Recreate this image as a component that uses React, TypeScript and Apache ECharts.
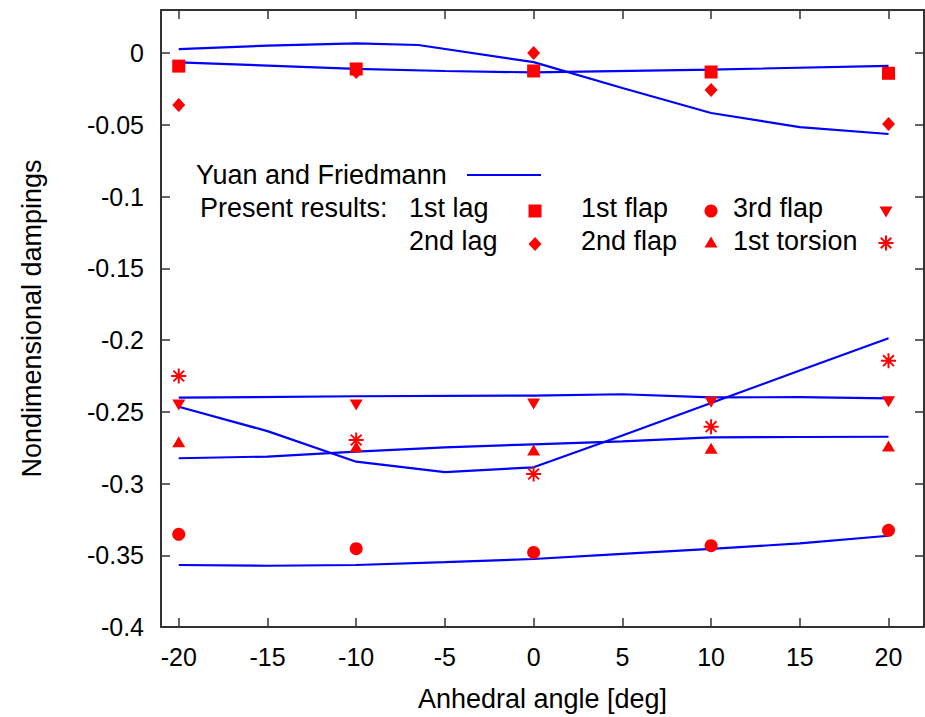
import React, { useEffect, useRef } from "react";
import * as echarts from "echarts";

// ---- data ----
const xTicks = [-20, -15, -10, -5, 0, 5, 10, 15, 20];
const yTicks = [-0.4, -0.35, -0.3, -0.25, -0.2, -0.15, -0.1, -0.05, 0];

// Yuan and Friedmann reference curves (x, y)
const yf1X = [-20, -15, -10, -6.5, 0, 5, 10, 15, 20];
const yf1Y = [0.0027, 0.0052, 0.0068, 0.0056, -0.0063, -0.0244, -0.0418, -0.0516, -0.0564];
const yf2X = [-20, -10, -5, 0, 10, 20];
const yf2Y = [-0.0065, -0.011, -0.0125, -0.0135, -0.0115, -0.009];
const yf3X = [-20, -10, 0, 5, 10, 15, 20];
const yf3Y = [-0.2402, -0.2392, -0.2387, -0.2378, -0.24, -0.2398, -0.2406];
const yf4X = [-20, -15, -10, -5, 0, 5, 10, 15, 20];
const yf4Y = [-0.2465, -0.2635, -0.2848, -0.292, -0.2887, -0.2665, -0.2439, -0.2212, -0.1988];
const yf5X = [-20, -15, -10, -5, 0, 5, 10, 15, 20];
const yf5Y = [-0.2824, -0.2812, -0.2778, -0.2748, -0.2727, -0.2707, -0.2678, -0.2676, -0.2674];
const yf6X = [-20, -15, -10, -5, 0, 5, 10, 15, 20];
const yf6Y = [-0.3568, -0.3573, -0.3568, -0.3548, -0.3526, -0.3491, -0.3456, -0.3417, -0.3364];

// Present results (markers)
const angles = [-20, -10, 0, 10, 20];
const lag1 = [-0.0091, -0.0111, -0.0125, -0.0132, -0.0141];
const lag2 = [-0.0362, -0.0132, 0.0, -0.0258, -0.0495];
const flap1 = [-0.3354, -0.3454, -0.348, -0.3433, -0.3326];
const flap2 = [-0.2709, -0.2743, -0.2767, -0.2755, -0.2739];
const flap3 = [-0.2453, -0.2453, -0.2446, -0.2434, -0.243];
const torsion1 = [-0.2251, -0.2697, -0.2934, -0.2604, -0.2144];

const legendLineLabel = "Yuan and Friedmann";
const legendHeader = "Present results:";
const legendLabels = ["1st lag", "2nd lag", "1st flap", "2nd flap", "3rd flap", "1st torsion"];

const FONT = '"Liberation Sans", Arial, Helvetica, sans-serif';
const BLUE = "#0000ff";
const RED = "#ff0000";
const AXIS = "#333333";
const TXT = "#000000";

const ASTERISK =
  "path://M-1.3,-10L1.3,-10L1.3,10L-1.3,10Z" +
  "M-10,-1.3L10,-1.3L10,1.3L-10,1.3Z" +
  "M-6.3,-8.1L8.1,6.3L6.3,8.1L-8.1,-6.3Z" +
  "M-8.1,6.3L6.3,-8.1L8.1,-6.3L-6.3,8.1Z";

function pairs(xs: number[], ys: number[]) {
  return xs.map((x, i) => [x, ys[i]]);
}

export default function App() {
  const ref = useRef<HTMLDivElement>(null);
  useEffect(() => {
    if (!ref.current) return;
    const chart = echarts.init(ref.current, null, { renderer: "svg" });
    const lineStyle = { color: AXIS, width: 2 };
    const tickStyle = { color: AXIS, width: 1.5 };

    const yfSeries = [
      pairs(yf1X, yf1Y),
      pairs(yf2X, yf2Y),
      pairs(yf3X, yf3Y),
      pairs(yf4X, yf4Y),
      pairs(yf5X, yf5Y),
      pairs(yf6X, yf6Y),
    ].map((d, i) => ({
      type: "line",
      name: legendLineLabel + (i ? " " + i : ""),
      data: d,
      showSymbol: false,
      symbol: "none",
      lineStyle: { color: BLUE, width: 2.2, opacity: 1 },
      itemStyle: { color: BLUE },
      z: 2,
    }));

    const markerDefs: any[] = [
      { name: "1st lag", values: lag1, symbol: "rect", size: 13, rotate: 0 },
      { name: "2nd lag", values: lag2, symbol: "diamond", size: [13, 14], rotate: 0 },
      { name: "1st flap", values: flap1, symbol: "circle", size: 13, rotate: 0 },
      { name: "2nd flap", values: flap2, symbol: "triangle", size: [13, 11], rotate: 0 },
      { name: "3rd flap", values: flap3, symbol: "triangle", size: [13, 11], rotate: 180 },
      { name: "1st torsion", values: torsion1, symbol: ASTERISK, size: 15, rotate: 0 },
    ];
    const markerSeries = markerDefs.map((m) => ({
      type: "scatter",
      name: m.name,
      data: pairs(angles, m.values),
      symbol: m.symbol,
      symbolSize: m.size,
      symbolRotate: m.rotate,
      itemStyle: { color: RED, opacity: 1 },
      z: 5,
    }));

    const txt = (text: string, x: number, y: number) => ({
      type: "text",
      x,
      y,
      style: {
        text,
        fill: TXT,
        fontSize: 27,
        fontFamily: FONT,
        align: "left",
        verticalAlign: "middle",
      },
      z: 10,
    });

    const r1 = 208;
    const r2 = 241;
    const graphics: any[] = [
      txt(legendLineLabel, 196, 175),
      { type: "line", shape: { x1: 467, y1: 175, x2: 541, y2: 175 }, style: { stroke: BLUE, lineWidth: 2.2 }, z: 10 },
      txt(legendHeader, 200, r1),
      txt(legendLabels[0], 409, r1),
      { type: "rect", shape: { x: 528.5, y: 204.5, width: 13, height: 13 }, style: { fill: RED }, z: 10 },
      txt(legendLabels[1], 409, r2),
      { type: "polygon", shape: { points: [[535, 237], [541.5, 244], [535, 251], [528.5, 244]] }, style: { fill: RED }, z: 10 },
      txt(legendLabels[2], 581, r1),
      { type: "circle", shape: { cx: 711, cy: 211, r: 6.5 }, style: { fill: RED }, z: 10 },
      txt(legendLabels[3], 581, r2),
      { type: "polygon", shape: { points: [[711, 236.5], [717.5, 247.5], [704.5, 247.5]] }, style: { fill: RED }, z: 10 },
      txt(legendLabels[4], 733, r1),
      { type: "polygon", shape: { points: [[879.5, 206.5], [892.5, 206.5], [886, 217.5]] }, style: { fill: RED }, z: 10 },
      txt(legendLabels[5], 733, r2),
      {
        type: "group",
        z: 10,
        children: [
          { type: "line", shape: { x1: 886, y1: 235.5, x2: 886, y2: 250.5 }, style: { stroke: RED, lineWidth: 2 } },
          { type: "line", shape: { x1: 878.5, y1: 243, x2: 893.5, y2: 243 }, style: { stroke: RED, lineWidth: 2 } },
          { type: "line", shape: { x1: 880.8, y1: 237.8, x2: 891.2, y2: 248.2 }, style: { stroke: RED, lineWidth: 2 } },
          { type: "line", shape: { x1: 880.8, y1: 248.2, x2: 891.2, y2: 237.8 }, style: { stroke: RED, lineWidth: 2 } },
        ],
      },
    ];

    const xBase = {
      type: "value",
      min: -21,
      max: 22,
      splitLine: { show: false },
      axisLine: { show: true, onZero: false, lineStyle },
      axisTick: { show: true, inside: true, length: 9, customValues: xTicks, lineStyle: tickStyle },
    };
    const yBase = {
      type: "value",
      min: -0.4,
      max: 0.03,
      splitLine: { show: false },
      axisLine: { show: true, onZero: false, lineStyle },
      axisTick: { show: true, inside: true, length: 9, customValues: yTicks, lineStyle: tickStyle },
    };

    chart.setOption({
      animation: false,
      backgroundColor: "#ffffff",
      textStyle: { fontFamily: FONT },
      grid: { left: 161, top: 10, right: 1, bottom: 90, containLabel: false, outerBoundsMode: "none" },
      xAxis: [
        {
          ...xBase,
          position: "bottom",
          name: "Anhedral angle [deg]",
          nameLocation: "middle",
          nameGap: 58,
          nameMoveOverlap: false,
          nameTextStyle: { fontSize: 27, fontFamily: FONT, color: TXT },
          axisLabel: {
            show: true,
            customValues: xTicks,
            fontSize: 25,
            fontFamily: FONT,
            color: TXT,
            margin: 17,
            formatter: (v: number) => String(v),
          },
        },
        { ...xBase, position: "top", axisLabel: { show: false } },
      ],
      yAxis: [
        {
          ...yBase,
          position: "left",
          name: "Nondimensional dampings",
          nameLocation: "middle",
          nameGap: 116,
          nameMoveOverlap: false,
          nameTextStyle: { fontSize: 27, fontFamily: FONT, color: TXT },
          axisLabel: {
            show: true,
            customValues: yTicks,
            fontSize: 25,
            fontFamily: FONT,
            color: TXT,
            margin: 17,
            formatter: (v: number) => String(+v.toFixed(2)),
          },
        },
        { ...yBase, position: "right", axisLabel: { show: false } },
      ],
      series: [...yfSeries, ...markerSeries],
      graphic: graphics,
    });
    return () => chart.dispose();
  }, []);
  return (
    <div
      ref={ref}
      style={{ position: "fixed", left: 0, top: 0, width: 925, height: 717, background: "#fff" }}
    />
  );
}
